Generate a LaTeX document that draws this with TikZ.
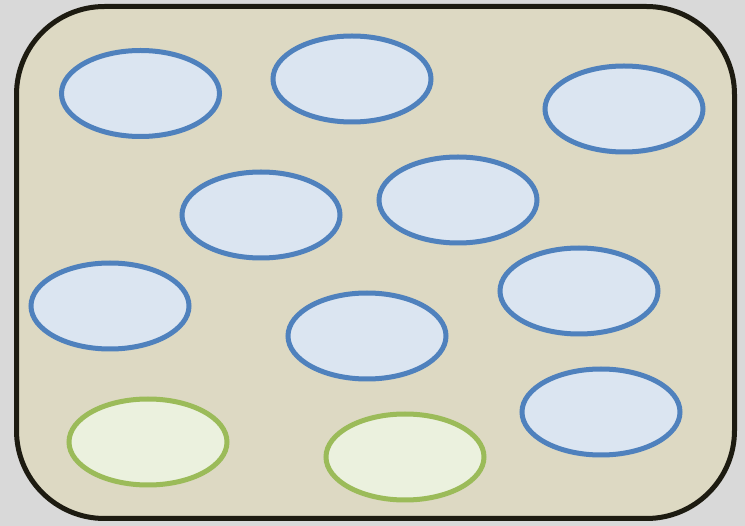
\documentclass[tikz,border=0pt]{standalone}
\usetikzlibrary{shapes.geometric}
\definecolor{pagegray}{HTML}{D9D9D9}
\definecolor{panelfill}{HTML}{DDD9C3}
\definecolor{paneledge}{HTML}{1D1B11}
\definecolor{bluefill}{HTML}{DBE5F1}
\definecolor{blueedge}{HTML}{4F81BD}
\definecolor{greenfill}{HTML}{EBF1DE}
\definecolor{greenedge}{HTML}{9BBB59}
\begin{document}
\begin{tikzpicture}[x=1pt,y=-1pt,
  blob/.style={ellipse,draw=blueedge,fill=bluefill,line width=5pt,
    minimum width=158pt,minimum height=86pt,inner sep=0pt},
  greenblob/.style={blob,draw=greenedge,fill=greenfill}]
  \fill[pagegray] (0,0) rectangle (745,526);
  \useasboundingbox (0,0) rectangle (745,526);
  \draw[paneledge,fill=panelfill,line width=5pt,rounded corners=88pt]
    (16.5,6.5) rectangle (734.5,518.5);
  \node[blob] (e1) at (140.5,93.5) {};
  \node[blob] (e2) at (352,79) {};
  \node[blob] (e3) at (624,109) {};
  \node[blob] (e4) at (261,215) {};
  \node[blob] (e5) at (458,200) {};
  \node[blob] (e6) at (110,306) {};
  \node[blob] (e7) at (579,291) {};
  \node[blob] (e8) at (367,336) {};
  \node[blob] (e9) at (601,412) {};
  \node[greenblob] (g1) at (148,442) {};
  \node[greenblob] (g2) at (405,457) {};
\end{tikzpicture}
\end{document}
